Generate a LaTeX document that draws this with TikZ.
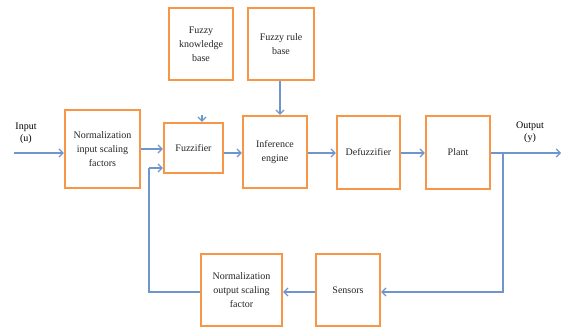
\documentclass[tikz,border=0pt]{standalone}
\usepackage{fontspec}
\setmainfont{Liberation Serif}
\usetikzlibrary{arrows.meta}
\definecolor{boxorange}{RGB}{247,150,70}
\definecolor{flowblue}{RGB}{110,150,205}
\begin{document}
\begin{tikzpicture}[x=1pt,y=-1pt,
  blockbox/.style={draw=boxorange,line width=2.4pt,fill=white,align=center,
    inner sep=1pt,font=\fontsize{10}{14}\selectfont,text=black!85},
  flow/.style={draw=flowblue,line width=1.4pt,
    -{Straight Barb[length=4pt,width=8pt,line width=1.2pt]}},
  wire/.style={draw=flowblue,line width=1.4pt},
  caption/.style={align=center,font=\fontsize{10}{12}\selectfont,text=black}]
\useasboundingbox (0,0) rectangle (561,328);

% blocks of the fuzzy controller
\node[blockbox,minimum width=75pt,minimum height=78pt] (ninp) at (102.5,149) {Normalization\\input scaling\\factors};
\node[blockbox,minimum width=59pt,minimum height=50pt] (fuzz) at (193.5,148) {Fuzzifier};
\node[blockbox,minimum width=64pt,minimum height=72pt] (fkb) at (201,44) {Fuzzy\\knowledge\\base};
\node[blockbox,minimum width=66pt,minimum height=72pt] (frb) at (281,44) {Fuzzy rule\\base};
\node[blockbox,minimum width=64pt,minimum height=72pt] (inf) at (275,152) {Inference\\engine};
\node[blockbox,minimum width=63pt,minimum height=73pt] (defz) at (368.5,152.5) {Defuzzifier};
\node[blockbox,minimum width=64pt,minimum height=73pt] (plant) at (458,152.5) {Plant};
\node[blockbox,minimum width=64pt,minimum height=72pt] (sens) at (348,290) {Sensors};
\node[blockbox,minimum width=81pt,minimum height=72pt] (nout) at (241.5,290) {Normalization\\output scaling\\factor};

% signal labels
\node[caption] (inlbl) at (26,133) {Input\\(u)};
\node[caption] (outlbl) at (530,132) {Output\\(y)};

% helper points
\coordinate (src) at (14,153);
\coordinate (sink) at (561,153);
\coordinate (branch) at (503,153);
\coordinate (fbbot) at (503,292);
\coordinate (retcorner) at (149,292);
\coordinate (retup) at (149,168);
\coordinate (kbtip) at (202,115);

% forward path
\draw[flow] (src) -- (src -| ninp.west);
\draw[flow] (ninp.east |- 0,149) -- (fuzz.west |- 0,149);
\draw[flow] (fuzz.east |- 0,153) -- (inf.west |- 0,153);
\draw[flow] (inf.east |- 0,153) -- (defz.west |- 0,153);
\draw[flow] (defz.east |- 0,153) -- (plant.west |- 0,153);
\draw[flow] (plant.east |- 0,153) -- (sink);
\draw[flow] (frb.south -| 280,0) -- (inf.north -| 280,0);
\draw[flow] (kbtip) -- (fuzz.north -| kbtip);

% feedback path
\draw[flow] (branch) -- (fbbot) -- (sens.east |- fbbot);
\draw[flow] (sens.west |- fbbot) -- (nout.east |- fbbot);
\draw[wire] (nout.west |- fbbot) -- (retcorner) -- (retup);
\draw[flow] (retup) -- (fuzz.west |- retup);
\end{tikzpicture}
\end{document}
